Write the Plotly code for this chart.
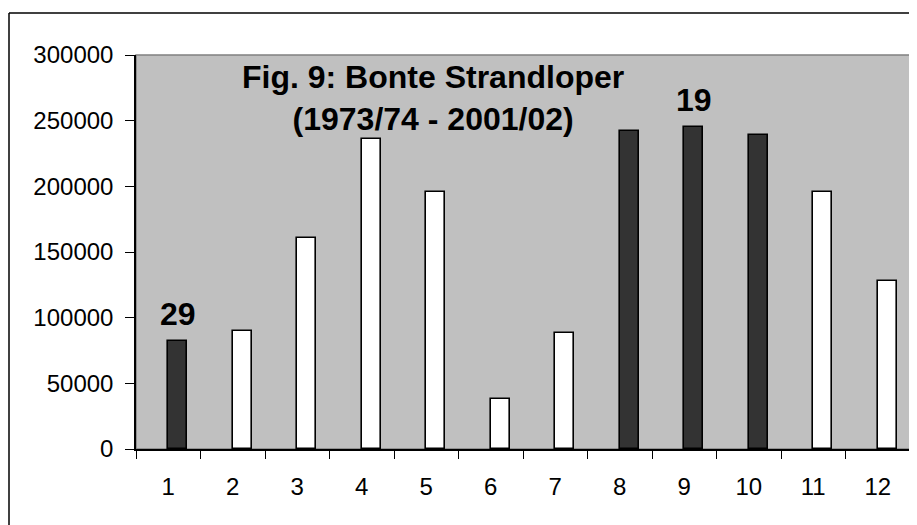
import plotly.graph_objects as go

# ---- data ----
categories = ["1", "2", "3", "4", "5", "6", "7", "8", "9", "10", "11", "12"]
values = [82000, 90000, 161000, 236000, 196000, 38000, 88000, 242000, 245000, 239000, 196000, 128000]
highlighted = ["1", "8", "9", "10"]
bar_labels = {"1": "29", "9": "19"}
title_lines = ["Fig. 9: Bonte Strandloper", "(1973/74 - 2001/02)"]
y_ticks = [0, 50000, 100000, 150000, 200000, 250000, 300000]

# ---- style ----
FONT = "Liberation Sans, Arial, sans-serif"
DARK = "#333333"
LIGHT = "#FFFFFF"
BAR_W = 0.295
# page body has an 8px default margin, so the figure is sized to fit the window
W, H = 909, 517
L, R, T, B = 128, 7, 47, 76
plot_w = W - L - R
plot_h = H - T - B

colors = [DARK if c in highlighted else LIGHT for c in categories]

fig = go.Figure()
fig.add_trace(go.Bar(
    x=categories, y=values,
    width=BAR_W, offset=0,
    marker=dict(color=colors, line=dict(color="black", width=1.6)),
    showlegend=False, hoverinfo="x+y",
))

cat_px = plot_w / len(categories)
annotations = []
for cat, txt in bar_labels.items():
    idx = categories.index(cat)
    annotations.append(dict(
        x=idx, y=values[idx], xref="x", yref="y",
        text="<b>%s</b>" % txt, showarrow=False,
        xshift=BAR_W * cat_px / 2, yshift=27, yanchor="middle",
        font=dict(family=FONT, size=32, color="black"),
    ))
annotations.append(dict(
    x=0.384, y=0.892, xref="paper", yref="paper",
    text="<b>" + "<br>".join(title_lines) + "</b>", showarrow=False,
    xanchor="center", yanchor="middle", align="center",
    font=dict(family=FONT, size=32, color="black"),
))

bx = (1 - L) / plot_w
by = (H - B - 5) / plot_h
fig.update_layout(
    width=W, height=H,
    margin=dict(l=L, r=R, t=T, b=B, pad=0),
    paper_bgcolor="white", plot_bgcolor="#C0C0C0",
    bargap=0,
    annotations=annotations,
    shapes=[
        dict(type="rect", xref="paper", yref="paper", x0=0, x1=1, y0=0, y1=1,
             line=dict(color="#808080", width=1.5), layer="below"),
        dict(type="line", xref="paper", yref="paper",
             x0=bx, x1=bx, y0=by, y1=-0.5,
             line=dict(color="black", width=1.5)),
        dict(type="line", xref="paper", yref="paper",
             x0=bx, x1=1.5, y0=by, y1=by,
             line=dict(color="black", width=1.5)),
    ],
)
fig.update_xaxes(
    type="category", tickson="boundaries", ticks="outside", ticklen=8,
    tickcolor="black", tickwidth=1, showline=True, linecolor="black", linewidth=1.5,
    showgrid=False, zeroline=False, ticklabelstandoff=15,
    tickfont=dict(family=FONT, size=24, color="black"),
)
fig.update_yaxes(
    range=[0, 300000], tickvals=y_ticks, tickformat="d",
    ticks="outside", ticklen=9, tickcolor="black", tickwidth=1,
    showline=True, linecolor="black", linewidth=1.5,
    showgrid=False, zeroline=False, ticklabelstandoff=7,
    tickfont=dict(family=FONT, size=24, color="black"),
)

fig.write_html("out.html")
